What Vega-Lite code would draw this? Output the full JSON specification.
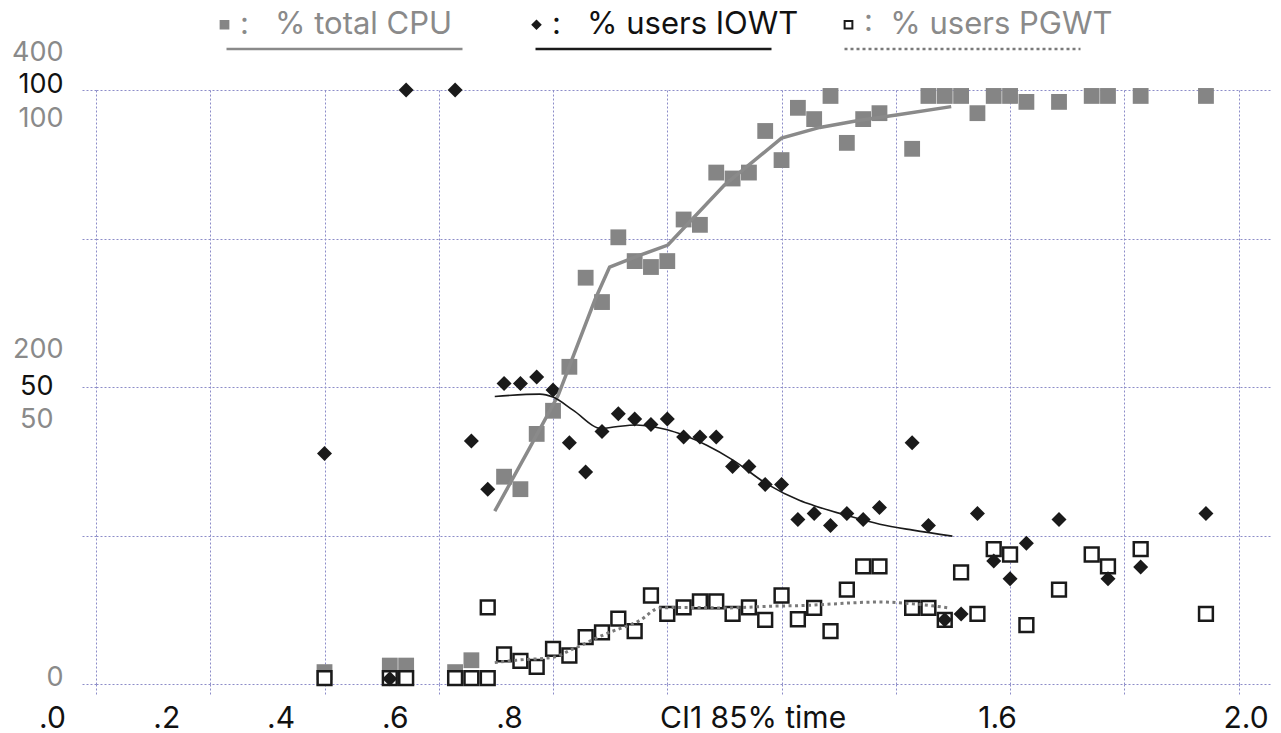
{
  "$schema": "https://vega.github.io/schema/vega-lite/v6.json",
  "width": 1174,
  "height": 594,
  "autosize": {"type": "none"},
  "padding": {"left": 96, "top": 90, "right": 11, "bottom": 49},
  "background": "white",
  "config": {"view": {"stroke": null}, "font": "Inter"},
  "datasets": {
    "pts": [
      {"x":0.4,"y":2.0,"series":"CPU"},{"x":0.5143,"y":3.1,"series":"CPU"},{"x":0.5429,"y":3.1,"series":"CPU"},{"x":0.6286,"y":2.0,"series":"CPU"},{"x":0.6571,"y":4.0,"series":"CPU"},{"x":0.7143,"y":34.9,"series":"CPU"},{"x":0.7429,"y":32.8,"series":"CPU"},{"x":0.7714,"y":42.1,"series":"CPU"},{"x":0.8,"y":46,"series":"CPU"},{"x":0.8286,"y":53.4,"series":"CPU"},{"x":0.8571,"y":68.4,"series":"CPU"},{"x":0.8857,"y":64.3,"series":"CPU"},{"x":0.9143,"y":75.2,"series":"CPU"},{"x":0.9429,"y":71.2,"series":"CPU"},{"x":0.9714,"y":70.2,"series":"CPU"},{"x":1.0,"y":71.2,"series":"CPU"},{"x":1.0286,"y":78.2,"series":"CPU"},{"x":1.0571,"y":77.3,"series":"CPU"},{"x":1.0857,"y":86.1,"series":"CPU"},{"x":1.1143,"y":85.1,"series":"CPU"},{"x":1.1429,"y":86.1,"series":"CPU"},{"x":1.1714,"y":93.1,"series":"CPU"},{"x":1.2,"y":88.2,"series":"CPU"},{"x":1.2286,"y":97.0,"series":"CPU"},{"x":1.2571,"y":95.1,"series":"CPU"},{"x":1.2857,"y":99.0,"series":"CPU"},{"x":1.3143,"y":91.1,"series":"CPU"},{"x":1.3429,"y":95.1,"series":"CPU"},{"x":1.3714,"y":96.1,"series":"CPU"},{"x":1.4286,"y":90.1,"series":"CPU"},{"x":1.4571,"y":99,"series":"CPU"},{"x":1.4857,"y":99,"series":"CPU"},{"x":1.5143,"y":99,"series":"CPU"},{"x":1.5429,"y":96.1,"series":"CPU"},{"x":1.5714,"y":99,"series":"CPU"},{"x":1.6,"y":99,"series":"CPU"},{"x":1.6286,"y":98,"series":"CPU"},{"x":1.6857,"y":98,"series":"CPU"},{"x":1.7429,"y":99,"series":"CPU"},{"x":1.7714,"y":99,"series":"CPU"},{"x":1.8286,"y":99,"series":"CPU"},{"x":1.9429,"y":99,"series":"CPU"},
      {"x":0.4,"y":38.8,"series":"IOWT"},{"x":0.5143,"y":0.9,"series":"IOWT"},{"x":0.5429,"y":100,"series":"IOWT"},{"x":0.6286,"y":100,"series":"IOWT"},{"x":0.6571,"y":40.9,"series":"IOWT"},{"x":0.6857,"y":32.8,"series":"IOWT"},{"x":0.7143,"y":50.6,"series":"IOWT"},{"x":0.7429,"y":50.6,"series":"IOWT"},{"x":0.7714,"y":51.7,"series":"IOWT"},{"x":0.8,"y":49.5,"series":"IOWT"},{"x":0.8286,"y":40.6,"series":"IOWT"},{"x":0.8571,"y":35.7,"series":"IOWT"},{"x":0.8857,"y":42.5,"series":"IOWT"},{"x":0.9143,"y":45.5,"series":"IOWT"},{"x":0.9429,"y":44.6,"series":"IOWT"},{"x":0.9714,"y":43.7,"series":"IOWT"},{"x":1.0,"y":44.6,"series":"IOWT"},{"x":1.0286,"y":41.6,"series":"IOWT"},{"x":1.0571,"y":41.6,"series":"IOWT"},{"x":1.0857,"y":41.6,"series":"IOWT"},{"x":1.1143,"y":36.6,"series":"IOWT"},{"x":1.1429,"y":36.6,"series":"IOWT"},{"x":1.1714,"y":33.6,"series":"IOWT"},{"x":1.2,"y":33.6,"series":"IOWT"},{"x":1.2286,"y":27.7,"series":"IOWT"},{"x":1.2571,"y":28.7,"series":"IOWT"},{"x":1.2857,"y":26.7,"series":"IOWT"},{"x":1.3143,"y":28.7,"series":"IOWT"},{"x":1.3429,"y":27.7,"series":"IOWT"},{"x":1.3714,"y":29.7,"series":"IOWT"},{"x":1.4286,"y":40.6,"series":"IOWT"},{"x":1.4571,"y":26.7,"series":"IOWT"},{"x":1.4857,"y":10.8,"series":"IOWT"},{"x":1.5143,"y":11.8,"series":"IOWT"},{"x":1.5429,"y":28.7,"series":"IOWT"},{"x":1.5714,"y":20.7,"series":"IOWT"},{"x":1.6,"y":17.7,"series":"IOWT"},{"x":1.6286,"y":23.7,"series":"IOWT"},{"x":1.6857,"y":27.7,"series":"IOWT"},{"x":1.7714,"y":17.7,"series":"IOWT"},{"x":1.8286,"y":19.7,"series":"IOWT"},{"x":1.9429,"y":28.7,"series":"IOWT"},
      {"x":0.4,"y":1,"series":"PGWT"},{"x":0.5143,"y":1,"series":"PGWT"},{"x":0.5429,"y":1,"series":"PGWT"},{"x":0.6286,"y":1,"series":"PGWT"},{"x":0.6571,"y":1,"series":"PGWT"},{"x":0.6857,"y":1,"series":"PGWT"},{"x":0.6857,"y":12.9,"series":"PGWT"},{"x":0.7143,"y":5.0,"series":"PGWT"},{"x":0.7429,"y":3.9,"series":"PGWT"},{"x":0.7714,"y":2.9,"series":"PGWT"},{"x":0.8,"y":5.9,"series":"PGWT"},{"x":0.8286,"y":4.8,"series":"PGWT"},{"x":0.8571,"y":7.9,"series":"PGWT"},{"x":0.8857,"y":8.7,"series":"PGWT"},{"x":0.9143,"y":11.0,"series":"PGWT"},{"x":0.9429,"y":8.9,"series":"PGWT"},{"x":0.9714,"y":14.9,"series":"PGWT"},{"x":1.0,"y":11.8,"series":"PGWT"},{"x":1.0286,"y":12.9,"series":"PGWT"},{"x":1.0571,"y":13.9,"series":"PGWT"},{"x":1.0857,"y":13.9,"series":"PGWT"},{"x":1.1143,"y":11.8,"series":"PGWT"},{"x":1.1429,"y":12.9,"series":"PGWT"},{"x":1.1714,"y":10.8,"series":"PGWT"},{"x":1.2,"y":14.9,"series":"PGWT"},{"x":1.2286,"y":10.9,"series":"PGWT"},{"x":1.2571,"y":12.8,"series":"PGWT"},{"x":1.2857,"y":8.9,"series":"PGWT"},{"x":1.3143,"y":15.9,"series":"PGWT"},{"x":1.3429,"y":19.8,"series":"PGWT"},{"x":1.3714,"y":19.8,"series":"PGWT"},{"x":1.4286,"y":12.8,"series":"PGWT"},{"x":1.4571,"y":12.8,"series":"PGWT"},{"x":1.4857,"y":10.8,"series":"PGWT"},{"x":1.5143,"y":18.8,"series":"PGWT"},{"x":1.5429,"y":11.8,"series":"PGWT"},{"x":1.5714,"y":22.7,"series":"PGWT"},{"x":1.6,"y":21.8,"series":"PGWT"},{"x":1.6286,"y":9.9,"series":"PGWT"},{"x":1.6857,"y":15.9,"series":"PGWT"},{"x":1.7429,"y":21.8,"series":"PGWT"},{"x":1.7714,"y":19.8,"series":"PGWT"},{"x":1.8286,"y":22.7,"series":"PGWT"},{"x":1.9429,"y":11.8,"series":"PGWT"}
    ],
    "fit": [
      {"x":0.698,"y":29.1,"series":"CPU"},{"x":0.756,"y":39.2,"series":"CPU"},{"x":0.809,"y":48.6,"series":"CPU"},{"x":0.873,"y":64.6,"series":"CPU"},{"x":0.899,"y":70.2,"series":"CPU"},{"x":0.95,"y":72.1,"series":"CPU"},{"x":1.001,"y":73.9,"series":"CPU"},{"x":1.1,"y":84,"series":"CPU"},{"x":1.2,"y":91.9,"series":"CPU"},{"x":1.267,"y":93.7,"series":"CPU"},{"x":1.337,"y":94.9,"series":"CPU"},{"x":1.401,"y":95.8,"series":"CPU"},{"x":1.497,"y":97.2,"series":"CPU"},
      {"x":0.698,"y":48.4,"series":"IOWT"},{"x":0.777,"y":48.8,"series":"IOWT"},{"x":0.8,"y":48.3,"series":"IOWT"},{"x":0.835,"y":46.1,"series":"IOWT"},{"x":0.885,"y":43.0,"series":"IOWT"},{"x":0.91,"y":43.3,"series":"IOWT"},{"x":0.946,"y":43.6,"series":"IOWT"},{"x":0.975,"y":43.3,"series":"IOWT"},{"x":1.0,"y":42.8,"series":"IOWT"},{"x":1.028,"y":41.9,"series":"IOWT"},{"x":1.069,"y":40.2,"series":"IOWT"},{"x":1.115,"y":37.7,"series":"IOWT"},{"x":1.174,"y":33.7,"series":"IOWT"},{"x":1.232,"y":30.9,"series":"IOWT"},{"x":1.255,"y":30.1,"series":"IOWT"},{"x":1.3135,"y":28.4,"series":"IOWT"},{"x":1.372,"y":26.9,"series":"IOWT"},{"x":1.43,"y":25.9,"series":"IOWT"},{"x":1.499,"y":24.9,"series":"IOWT"},
      {"x":0.698,"y":3.6,"series":"PGWT"},{"x":0.735,"y":4.0,"series":"PGWT"},{"x":0.8,"y":4.5,"series":"PGWT"},{"x":0.835,"y":5.9,"series":"PGWT"},{"x":0.894,"y":8.5,"series":"PGWT"},{"x":0.952,"y":10.7,"series":"PGWT"},{"x":0.987,"y":12.8,"series":"PGWT"},{"x":1.04,"y":12.9,"series":"PGWT"},{"x":1.098,"y":12.8,"series":"PGWT"},{"x":1.185,"y":13.1,"series":"PGWT"},{"x":1.232,"y":13.2,"series":"PGWT"},{"x":1.372,"y":13.8,"series":"PGWT"},{"x":1.43,"y":13.5,"series":"PGWT"},{"x":1.494,"y":12.8,"series":"PGWT"}
    ]
  },
  "encoding": {
    "x": {
      "field": "x", "type": "quantitative",
      "scale": {"domain": [0, 2.055], "nice": false, "zero": false},
      "axis": {
        "values": [0, 0.2, 0.4, 0.6, 0.8, 1, 1.2, 1.4, 1.6, 1.8, 2],
        "title": null, "domain": false,
        "grid": true, "gridColor": "#8c8cc8", "gridDash": [2, 2], "gridWidth": 1,
        "ticks": true, "tickSize": 11, "tickColor": "#8c8cc8", "tickDash": [2, 2],
        "labelFont": "Inter", "labelFontSize": 30, "labelColor": "#111111", "labelPadding": 8, "labelLimit": 400,
        "labelOverlap": false, "labelFlush": false, "labelBound": false,
        "labelExpr": "datum.value < 0.05 ? '.0' : abs(datum.value-0.2)<0.01 ? '.2' : abs(datum.value-0.4)<0.01 ? '.4' : abs(datum.value-0.6)<0.01 ? '.6' : abs(datum.value-0.8)<0.01 ? '.8' : abs(datum.value-1.2)<0.01 ? 'CI1 85% time' : abs(datum.value-1.6)<0.01 ? '1.6' : abs(datum.value-2)<0.01 ? '2.0' : ''",
        "labelOffset": {"condition": [{"test": "datum.value < 0.9", "value": -44}, {"test": "abs(datum.value-1.2)<0.01", "value": -29}, {"test": "abs(datum.value-1.6)<0.01", "value": -13}], "value": 7}
      }
    }
  },
  "layer": [
    {
      "data": {"name": "pts"},
      "transform": [{"filter": "datum.series === 'CPU'"}],
      "mark": {"type": "point", "filled": true, "size": 250, "opacity": 1, "strokeWidth": 0},
      "encoding": {
        "y": {
          "field": "y", "type": "quantitative",
          "scale": {"domain": [0, 100], "nice": false, "zero": false},
          "axis": {
            "orient": "left", "values": [0, 25, 50, 75, 100], "title": null, "domain": false,
            "grid": true, "gridColor": "#8c8cc8", "gridDash": [2, 2], "gridWidth": 1,
            "ticks": true, "tickSize": 16, "tickColor": "#8c8cc8", "tickDash": [2, 2],
            "labelFont": "Inter", "labelFontSize": 27, "labelColor": "#111111",
            "labelOverlap": false, "labelFlush": false, "labelBound": false,
            "labelExpr": "datum.value == 100 ? '100' : datum.value == 50 ? '50' : ''",
            "labelOffset": {"condition": {"test": "datum.value == 100", "value": -6}, "value": -1},
            "labelPadding": {"condition": {"test": "datum.value == 50", "value": 27}, "value": 17}
          }
        },
        "fill": {
          "field": "series", "type": "nominal",
          "scale": {"domain": ["CPU", "IOWT", "PGWT"], "range": ["#858585", "#1a1a1a", "#ffffff"]},
          "legend": {
            "orient": "none", "legendX": 113, "legendY": -81, "direction": "horizontal", "columns": 3,
            "title": null, "symbolSize": 60, "symbolStrokeWidth": 2, "labelFont": "Inter", "labelFontSize": 31, "labelOffset": 0,
            "labelLimit": 500, "columnPadding": 32, "gridAlign": "all", "padding": 0,
            "labelColor": {"expr": "datum.value === 'IOWT' ? '#111111' : '#8a8a8a'"},
            "labelExpr": "datum.value === 'CPU' ? ':\u00a0\u00a0\u00a0% total CPU' : datum.value === 'IOWT' ? ':\u00a0\u00a0\u00a0% users IOWT' : ':\u00a0\u00a0% users PGWT'"
          }
        },
        "shape": {
          "field": "series", "type": "nominal",
          "scale": {"domain": ["CPU", "IOWT", "PGWT"], "range": ["square", "diamond", "square"]}
        },
        "stroke": {
          "field": "series", "type": "nominal",
          "scale": {"domain": ["CPU", "IOWT", "PGWT"], "range": ["#858585", "#1a1a1a", "#1a1a1a"]}
        }
      }
    },
    {
      "data": {"name": "pts"},
      "transform": [{"filter": "datum.series === 'PGWT'"}],
      "mark": {"type": "point", "filled": true, "size": 190, "opacity": 1, "strokeWidth": 2.5},
      "encoding": {
        "y": {
          "field": "y", "type": "quantitative",
          "axis": {
            "orient": "left", "values": [0, 50, 100], "title": null, "domain": false, "grid": false, "ticks": false,
            "labelFont": "Inter", "labelFontSize": 27, "labelColor": "#8a8a8a",
            "labelOverlap": false, "labelFlush": false, "labelBound": false,
            "labelExpr": "datum.value == 100 ? '100' : datum.value == 50 ? '50' : '0'",
            "labelOffset": {"condition": [{"test": "datum.value == 100", "value": 28}, {"test": "datum.value == 50", "value": 32}], "value": -7},
            "labelPadding": {"condition": {"test": "datum.value == 50", "value": 43}, "value": 33}
          }
        },
        "fill": {"field": "series", "type": "nominal"},
        "shape": {"field": "series", "type": "nominal"},
        "stroke": {"field": "series", "type": "nominal"}
      }
    },
    {
      "data": {"name": "pts"},
      "transform": [{"filter": "datum.series === 'IOWT'"}],
      "mark": {"type": "point", "filled": true, "size": 225, "opacity": 1, "strokeWidth": 0},
      "encoding": {
        "y": {
          "field": "y", "type": "quantitative",
          "axis": {
            "orient": "left", "values": [50, 100], "title": null, "domain": false, "grid": false, "ticks": false,
            "labelFont": "Inter", "labelFontSize": 27, "labelColor": "#8a8a8a",
            "labelOverlap": false, "labelFlush": false, "labelBound": false,
            "labelExpr": "datum.value == 100 ? '400' : '200'",
            "labelOffset": -38,
            "labelPadding": 33
          }
        },
        "fill": {"field": "series", "type": "nominal"},
        "shape": {"field": "series", "type": "nominal"},
        "stroke": {"field": "series", "type": "nominal"}
      }
    },
    {
      "data": {"name": "fit"},
      "transform": [{"filter": "datum.series === 'CPU'"}],
      "mark": {"type": "line", "strokeWidth": 3.5, "interpolate": "linear"},
      "encoding": {
        "y": {"field": "y", "type": "quantitative", "axis": null},
        "color": {
          "field": "series", "type": "nominal",
          "scale": {"range": ["#8a8a8a", "#1a1a1a", "#7a7a7a"]},
          "legend": {
            "orient": "none", "legendX": 129, "legendY": -43, "direction": "horizontal", "columns": 3,
            "title": null, "symbolType": "stroke", "symbolSize": 55696, "symbolStrokeWidth": 2.5, "clipHeight": 4,
            "labelExpr": "''", "labelOffset": 0, "labelFontSize": 4, "columnPadding": 70, "padding": 0, "gridAlign": "all",
            "encode": {
              "symbols": {"update": {
                "size": {"value": 55696},
                "strokeDash": {"signal": "datum.value === 'PGWT' ? [3, 3] : [1, 0]"}
              }}
            }
          }
        }
      }
    },
    {
      "data": {"name": "fit"},
      "transform": [{"filter": "datum.series === 'IOWT'"}],
      "mark": {"type": "line", "strokeWidth": 1.6, "interpolate": "monotone"},
      "encoding": {
        "y": {"field": "y", "type": "quantitative", "axis": null},
        "color": {"field": "series", "type": "nominal"}
      }
    },
    {
      "data": {"name": "fit"},
      "transform": [{"filter": "datum.series === 'PGWT'"}],
      "mark": {"type": "line", "strokeWidth": 3, "strokeDash": [3, 3.5], "interpolate": "monotone"},
      "encoding": {
        "y": {"field": "y", "type": "quantitative", "axis": null},
        "color": {"field": "series", "type": "nominal"}
      }
    }
  ],
  "resolve": {"axis": {"y": "independent"}}
}
